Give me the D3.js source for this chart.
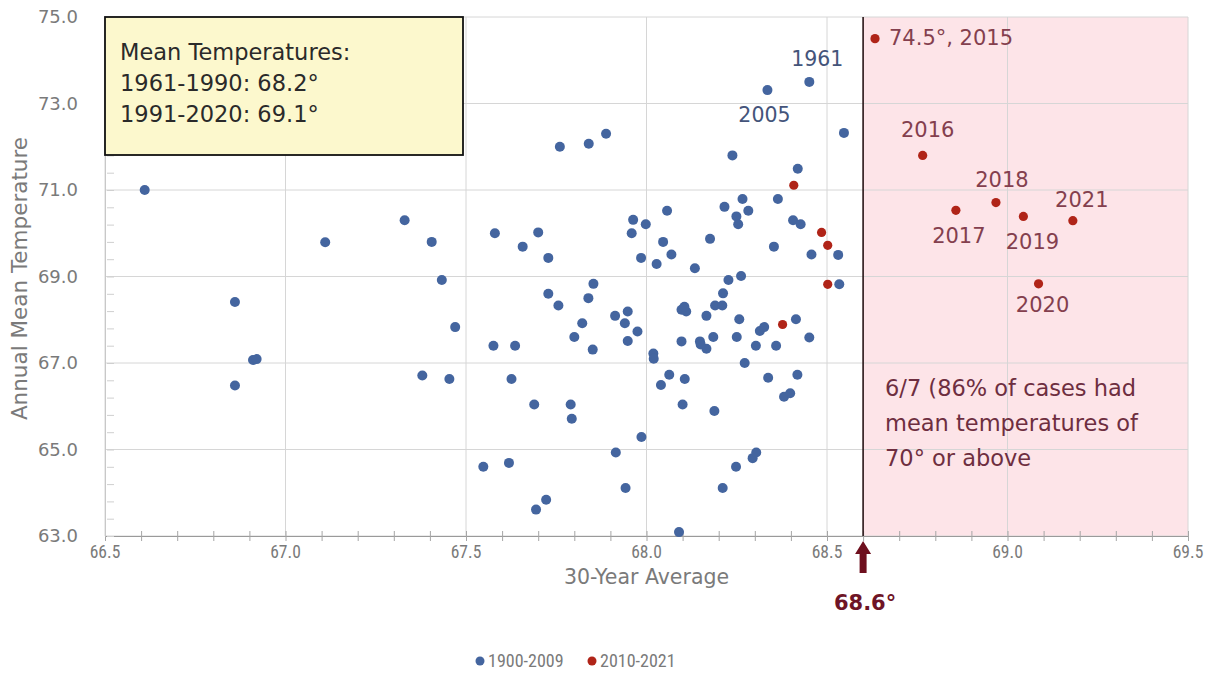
<!DOCTYPE html>
<html>
<head>
<meta charset="utf-8">
<script src="https://cdn.jsdelivr.net/npm/d3@7"></script>
<style>
  body { margin: 0; background: #fff; }
  svg { display: block; }
</style>
</head>
<body>
<svg id="chart" width="1215" height="688"></svg>
<script>
// ---------- DATA ----------
const seriesNames = ["1900-2009", "2010-2021"];
const blueX = [66.61,66.86,66.86,66.91,66.92,67.11,67.33,67.405,67.433,67.47,67.379,67.454,67.76,67.84,67.888,67.58,67.70,67.657,67.728,67.963,67.998,67.959,67.985,68.028,67.853,67.728,67.839,67.756,67.913,67.948,67.940,67.975,67.822,67.800,67.851,67.948,68.019,68.02,67.576,67.636,67.626,67.689,67.790,67.793,67.986,67.915,67.548,67.619,67.942,67.722,67.694,68.063,68.040,68.106,68.100,68.188,68.272,68.337,68.418,68.381,68.398,68.248,68.294,68.304,68.211,68.090,68.335,68.451,68.238,68.419,68.364,68.216,68.266,68.282,68.249,68.254,68.406,68.427,68.057,68.046,68.069,68.134,68.176,68.353,68.457,68.531,68.534,68.547,68.227,68.262,68.212,68.19,68.21,68.097,68.11,68.105,68.166,68.257,68.414,68.25,68.303,68.314,68.326,68.359,68.451,68.097,68.148,68.166,68.185,68.15];
const blueY = [71.0,68.41,66.48,67.07,67.09,69.79,70.30,69.80,68.92,67.83,66.71,66.63,72.0,72.07,72.30,70.0,70.02,69.69,69.43,70.31,70.21,70.0,69.43,69.29,68.83,68.60,68.50,68.33,68.09,68.19,67.92,67.73,67.92,67.60,67.31,67.51,67.22,67.10,67.40,67.40,66.63,66.04,66.04,65.71,65.29,64.93,64.60,64.69,64.11,63.84,63.61,66.73,66.49,66.63,66.04,65.89,67.0,66.66,66.73,66.22,66.30,64.60,64.80,64.93,64.11,63.09,73.31,73.50,71.80,71.49,70.79,70.61,70.79,70.52,70.39,70.21,70.30,70.21,70.52,69.80,69.51,69.19,69.87,69.69,69.51,69.50,68.82,72.32,68.92,69.01,68.61,68.33,68.33,68.23,68.19,68.30,68.09,68.01,68.01,67.60,67.40,67.74,67.83,67.40,67.59,67.50,67.50,67.33,67.60,67.43];
const redX = [68.408,68.485,68.502,68.502,68.377,68.633,68.765,68.857,68.968,69.044,69.086,69.181];
const redY = [71.11,70.02,69.72,68.82,67.89,74.50,71.80,70.53,70.71,70.39,68.83,70.29];

const xTicks = [66.5,67.0,67.5,68.0,68.5,69.0,69.5];
const yTicks = [63.0,65.0,67.0,69.0,71.0,73.0,75.0];
const threshold = 68.6;
const thresholdLabel = "68.6°";

// labelled points: [x, y, text]
const blueLabels = [[68.451,73.50,"1961"],[68.335,73.31,"2005"]];
const redLabels = [[68.633,74.50,"74.5°, 2015"],[68.765,71.80,"2016"],[68.857,70.53,"2017"],[68.968,70.71,"2018"],[69.044,70.39,"2019"],[69.086,68.83,"2020"],[69.181,70.29,"2021"]];
const boxLines = ["Mean Temperatures:","1961-1990: 68.2°","1991-2020: 69.1°"];
const noteLines = ["6/7 (86% of cases had","mean temperatures of","70° or above"];

// ---------- LAYOUT ----------
const svg = d3.select("#chart");
const L = 105, R = 1188, T = 17, B = 536;
const x = d3.scaleLinear().domain([66.5,69.5]).range([L,R]);
const y = d3.scaleLinear().domain([63,75]).range([B,T]);
const font = "'DejaVu Sans', 'Open Sans', sans-serif";
const narrow = "'Roboto Condensed','Liberation Sans Narrow','DejaVu Sans Condensed',sans-serif";
const grayText = "#7a7a7a";

// shaded region
svg.append("rect").attr("x", x(threshold)).attr("y", y(75))
  .attr("width", x(69.5)-x(threshold)).attr("height", y(63)-y(75))
  .attr("fill", "#fde4e8");

// gridlines
svg.append("g").selectAll("line").data(xTicks).join("line")
  .attr("x1", d=>x(d)).attr("x2", d=>x(d)).attr("y1", T).attr("y2", B)
  .attr("stroke", "#d6d6d6").attr("stroke-width", 1);
svg.append("g").selectAll("line").data(yTicks).join("line")
  .attr("x1", L).attr("x2", R).attr("y1", d=>y(d)).attr("y2", d=>y(d))
  .attr("stroke", "#d6d6d6").attr("stroke-width", 1);

// x axis
const xMinor = d3.range(0,31).map(i => 66.5 + i*0.1);
const xAxis = d3.axisBottom(x).tickValues(xMinor).tickSize(0).tickFormat("");
const gx = svg.append("g").attr("transform", `translate(0,${B})`).call(xAxis);
gx.select(".domain").attr("stroke", "#9a9a9a");
gx.selectAll(".tick line").remove();
gx.selectAll(".tick").append("line").attr("y1", -5).attr("y2", 5).attr("stroke", "#a6a6a6");
svg.append("g").selectAll("text").data(xTicks).join("text")
  .attr("x", d=>x(d)).attr("y", B+22).attr("text-anchor","middle")
  .attr("font-family", narrow).attr("font-size", 17.5).attr("fill", grayText)
  .text(d=>d3.format(".1f")(d));

// y axis
const yMinor = d3.range(0,31).map(i => 63 + i*0.4);
const yAxis = d3.axisLeft(y).tickValues(yMinor).tickSize(0).tickFormat("");
const gy = svg.append("g").attr("transform", `translate(${L},0)`).call(yAxis);
gy.select(".domain").attr("stroke", "#c8c8c8");
gy.selectAll(".tick").append("line").attr("x1", 2).attr("x2", 9).attr("stroke", "#cfcfcf");
svg.append("g").selectAll("text").data(yTicks).join("text")
  .attr("x", L-27).attr("y", d=>y(d)).attr("dy","0.35em").attr("text-anchor","end")
  .attr("font-family", font).attr("font-size", 18).attr("fill", grayText)
  .text(d=>d3.format(".1f")(d));

// axis titles
svg.append("text").attr("x", (L+R)/2).attr("y", 584).attr("text-anchor","middle")
  .attr("font-family", font).attr("font-size", 20.5).attr("fill", grayText).text("30-Year Average");
svg.append("text").attr("transform", `translate(27,${(T+B)/2+2}) rotate(-90)`).attr("text-anchor","middle")
  .attr("font-family", font).attr("font-size", 21.5).attr("fill", grayText).text("Annual Mean Temperature");

// threshold line
svg.append("line").attr("x1", x(threshold)).attr("x2", x(threshold)).attr("y1", T).attr("y2", B)
  .attr("stroke", "#2a1618").attr("stroke-width", 1.6);

// arrow
const ax = x(threshold);
svg.append("path")
  .attr("d", `M${ax},${B+5} L${ax+8},${B+18} L${ax+3.5},${B+18} L${ax+3.5},${B+37} L${ax-3.5},${B+37} L${ax-3.5},${B+18} L${ax-8},${B+18} Z`)
  .attr("fill", "#6e0f1e");
svg.append("text").attr("x", ax+2).attr("y", B+74).attr("text-anchor","middle")
  .attr("font-family", font).attr("font-weight","bold").attr("font-size", 21).attr("fill", "#6e1426")
  .text(thresholdLabel);

// points
const blueData = blueX.map((v,i)=>({x:v, y:blueY[i]}));
const redData = redX.map((v,i)=>({x:v, y:redY[i]}));
svg.append("g").selectAll("circle").data(blueData).join("circle")
  .attr("cx", d=>x(d.x)).attr("cy", d=>y(d.y)).attr("r", 5)
  .attr("fill", "#44659f");
svg.append("g").selectAll("circle").data(redData).join("circle")
  .attr("cx", d=>x(d.x)).attr("cy", d=>y(d.y)).attr("r", 4.6)
  .attr("fill", "#b02418");

// point labels
const blueLabelOff = {"1961":[8,-23],"2005":[-3,25]};
svg.append("g").selectAll("text").data(blueLabels).join("text")
  .attr("x", d=>x(d[0])+blueLabelOff[d[2]][0]).attr("y", d=>y(d[1])+blueLabelOff[d[2]][1])
  .attr("dy","0.35em").attr("text-anchor","middle")
  .attr("font-family", font).attr("font-size", 20.5).attr("fill", "#44547a").text(d=>d[2]);
const redLabelOff = {"74.5°, 2015":[14,-1,"start"],"2016":[5,-26,"middle"],"2017":[3,25,"middle"],"2018":[6,-23,"middle"],"2019":[9,25,"middle"],"2020":[4,21,"middle"],"2021":[9,-21,"middle"]};
svg.append("g").selectAll("text").data(redLabels).join("text")
  .attr("x", d=>x(d[0])+redLabelOff[d[2]][0]).attr("y", d=>y(d[1])+redLabelOff[d[2]][1])
  .attr("dy","0.35em").attr("text-anchor", d=>redLabelOff[d[2]][2])
  .attr("font-family", font).attr("font-size", 21).attr("fill", "#843f4e").text(d=>d[2]);

// annotation box
svg.append("rect").attr("x", L).attr("y", T).attr("width", 358).attr("height", 138)
  .attr("fill", "#fcf8cd").attr("stroke", "#111").attr("stroke-width", 1.8);
svg.append("g").selectAll("text").data(boxLines).join("text")
  .attr("x", L+15).attr("y", (d,i)=>52+i*31).attr("dy","0.35em")
  .attr("font-family", font).attr("font-size", 22.5).attr("fill", "#2a2a2a").text(d=>d);

// note in shaded region
svg.append("g").selectAll("text").data(noteLines).join("text")
  .attr("x", 885).attr("y", (d,i)=>388+i*35).attr("dy","0.35em")
  .attr("font-family", font).attr("font-size", 22.5).attr("fill", "#6e2e40").text(d=>d);

// legend
const legend = svg.append("g");
const legItems = [{name: seriesNames[0], color:"#44659f", x:480}, {name: seriesNames[1], color:"#b02418", x:592}];
legend.selectAll("circle").data(legItems).join("circle")
  .attr("cx", d=>d.x).attr("cy", 661).attr("r", 4.5).attr("fill", d=>d.color);
legend.selectAll("text").data(legItems).join("text")
  .attr("x", d=>d.x+8).attr("y", 661).attr("dy","0.35em")
  .attr("font-family", narrow).attr("font-size", 18).attr("fill", grayText).text(d=>d.name);
</script>
</body>
</html>
